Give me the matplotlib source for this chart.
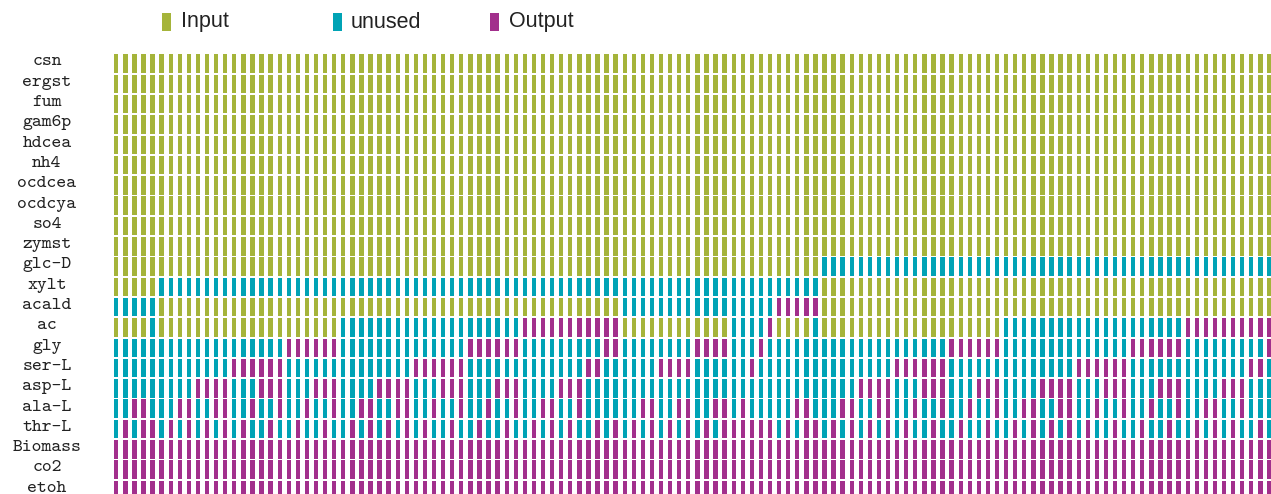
import matplotlib
matplotlib.use("Agg")
import matplotlib.pyplot as plt
from matplotlib.patches import Rectangle
from matplotlib.transforms import blended_transform_factory

W, H = 1271, 494

row_labels = ["csn", "ergst", "fum", "gam6p", "hdcea", "nh4", "ocdcea", "ocdcya",
              "so4", "zymst", "glc-D", "xylt", "acald", "ac", "gly", "ser-L",
              "asp-L", "ala-L", "thr-L", "Biomass", "co2", "etoh"]

# state of each exchange per column (128 columns): I = Input, U = unused, O = Output
all_input = ("IIIII" "IIIIIIIIIIIIIIIIIIII" "IIIIIIIIIIIIIIIIIIII" "IIIIIIIIIII"
             "IIIIIIIIIIIIIIIIIIIIII" "IIIIIIIIIIIIIIIIIIII" "IIIIIIIIIIIIIIIIIIII" "IIIIIIIIII")
glc_D = ("IIIII" "IIIIIIIIIIIIIIIIIIII" "IIIIIIIIIIIIIIIIIIII" "IIIIIIIIIII"
         "IIIIIIIIIIIIIIIIIIIIII" "UUUUUUUUUUUUUUUUUUUU" "UUUUUUUUUUUUUUUUUUUU" "UUUUUUUUUU")
xylt = ("IIIII" "UUUUUUUUUUUUUUUUUUUU" "UUUUUUUUUUUUUUUUUUUU" "UUUUUUUUUUU"
        "UUUUUUUUUUUUUUUUUUUUUU" "IIIIIIIIIIIIIIIIIIII" "IIIIIIIIIIIIIIIIIIII" "IIIIIIIIII")
acald = ("UUUUU" "IIIIIIIIIIIIIIIIIIII" "IIIIIIIIIIIIIIIIIIII" "IIIIIIIIIII"
         "UUUUUUUUUUUUUUUUUOOOOO" "IIIIIIIIIIIIIIIIIIII" "IIIIIIIIIIIIIIIIIIII" "IIIIIIIIII")
ac = ("IIIIU" "IIIIIIIIIIIIIIIIIIII" "UUUUUUUUUUUUUUUUUUUU" "OOOOOOOOOOO"
      "IIIIIIIIIIIIUUUUOIIIIU" "IIIIIIIIIIIIIIIIIIII" "UUUUUUUUUUUUUUUUUUUU" "OOOOOOOOOO")
gly = ("UUUUU" "UUUUUUUUUUUUUUOOOOOO" "UUUUUUUUUUUUUUOOOOOO" "UUUUUUUUUOO"
       "UUUUUUUUOOOOUUUOUUUUUU" "UUUUUUUUUUUUUUOOOOOO" "UUUUUUUUUUUUUUOOOOOO" "UUUUUUUUUO")
ser_L = ("UUUUU" "UUUUUUUUOOOOOOUUUUUU" "UUUUUUUUOOOOOOUUUUUU" "UUUUUUUOOUU"
         "UUUUOOOOUUUUUUOUUUUUUU" "UUUUUUUUOOOOOOUUUUUU" "UUUUUUUUOOOOOOUUUUUU" "UUUUUUUOOU")
asp_L = ("UUUUU" "UUUUOOOOUUUOOOUUUOOO" "UUUUOOOOUUUOOOUUUOOO" "UUUUOOOUUUU"
         "UUUUUUUUUUUUUUUUUUUUUU" "UUUUOOOOUUUOOOUUUOOO" "UUUUOOOOUUUOOOUUUOOO" "UUUUOOOUUU")
ala_L = ("UUOOU" "UUOOUUOOUUOUUOUUOUUO" "UUOOUUOOUUOUUOUUOUUO" "UUOOUUOUUUU"
         "UUOOUUOOUUOOUOUUUUUOOU" "UUOOUUOOUUOUUOUUOUUO" "UUOOUUOOUUOUUOUUOUUO" "UUOOUUOUUU")
thr_L = ("UOUOO" "UOUOUOUOUOUUOUUOUUOU" "UOUOUOUOUOUUOUUOUUOU" "UOUOUOUUOUO"
         "UOUOUOUOUOUOOOOOOUOUOO" "UOUOUOUOUOUUOUUOUUOU" "UOUOUOUOUOUUOUUOUUOU" "UOUOUOUUOU")
all_output = ("OOOOO" "OOOOOOOOOOOOOOOOOOOO" "OOOOOOOOOOOOOOOOOOOO" "OOOOOOOOOOO"
              "OOOOOOOOOOOOOOOOOOOOOO" "OOOOOOOOOOOOOOOOOOOO" "OOOOOOOOOOOOOOOOOOOO" "OOOOOOOOOO")

rows_states = [all_input] * 10 + [glc_D, xylt, acald, ac, gly, ser_L, asp_L, ala_L,
                                  thr_L] + [all_output] * 3

colors = {"I": "#A5B43A", "U": "#00A3B5", "O": "#A22F8C"}
legend_keys = ["I", "U", "O"]
legend_names = ["Input", "unused", "Output"]

N_COLS = len(all_input)

fig = plt.figure(figsize=(W / 100, H / 100), dpi=100)
fig.patch.set_facecolor("white")

pitch = 9.08
col0_center = 116.25
row_pitch = 20.3
row0_center = 63.6
x_left = col0_center - 0.5 * pitch
x_right = float(W)
xmax = (x_right - col0_center) / pitch
y_top = row0_center - 0.5 * row_pitch
y_bot = row0_center + 21.5 * row_pitch
ax = fig.add_axes([x_left / W, 1 - y_bot / H, (x_right - x_left) / W, (y_bot - y_top) / H])
ax.set_xlim(-0.5, xmax)
ax.set_ylim(21.5, -0.5)
ax.axis("off")

bar_w = 0.48
bar_h = 0.916
for r, states in enumerate(rows_states):
    for key in "IUO":
        xs = [c for c, s in enumerate(states) if s == key]
        if xs:
            ax.bar(xs, [bar_h] * len(xs), width=bar_w, bottom=r - bar_h / 2,
                   color=colors[key], linewidth=0)

trans = blended_transform_factory(fig.transFigure, ax.transData)
for r, lab in enumerate(row_labels):
    ax.text(47 / W, r - 0.08, lab, transform=trans, ha="center", va="center",
            family="cmtt10", fontsize=13.5, color="#222222")

# legend
leg_x = [162, 333, 490]
leg_tx = [181, 351, 509]
for key, name, mx, tx in zip(legend_keys, legend_names, leg_x, leg_tx):
    fig.add_artist(Rectangle((mx / W, 1 - 31 / H), 9 / W, 18 / H,
                             transform=fig.transFigure, color=colors[key], linewidth=0))
    fig.text(tx / W, 1 - 22 / H, name, ha="left", va="center",
             family="Liberation Sans", fontsize=15.5, color="#222222")

fig.savefig("out.png", dpi=100, facecolor="white")
